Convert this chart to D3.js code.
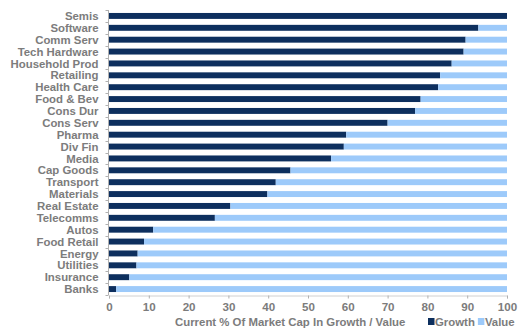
<!DOCTYPE html>
<html>
<head>
<meta charset="utf-8">
<script src="https://cdn.jsdelivr.net/npm/d3@7"></script>
<style>
  html, body { margin: 0; padding: 0; background: #fff; }
  svg { display: block; font-family: "Liberation Sans", Arial, sans-serif; }
</style>
</head>
<body>
<svg id="chart" width="520" height="336"></svg>
<script>
// Sectors, top to bottom
const sectors = ["Semis", "Software", "Comm Serv", "Tech Hardware", "Household Prod",
  "Retailing", "Health Care", "Food & Bev", "Cons Dur", "Cons Serv", "Pharma",
  "Div Fin", "Media", "Cap Goods", "Transport", "Materials", "Real Estate",
  "Telecomms", "Autos", "Food Retail", "Energy", "Utilities", "Insurance", "Banks"];

// Share of market cap classed as growth (%); value is the remainder
const growthPct = [100, 92.8, 89.6, 89.1, 86.1, 83.2, 82.7, 78.3, 76.9, 70.0, 59.6,
  59.0, 55.8, 45.6, 41.9, 39.8, 30.5, 26.6, 11.1, 8.8, 7.2, 6.9, 5.1, 1.8];
const valuePct = growthPct.map(g => 100 - g);

const xTicks = [0, 10, 20, 30, 40, 50, 60, 70, 80, 90, 100];
const seriesNames = ["Growth", "Value"];
const colors = { Growth: "#0d2f5e", Value: "#9dcafa" };
const textColor = "#7c7c7c";
const axisTitle = "Current % Of Market Cap In Growth / Value";

const svg = d3.select("#chart");
const margin = { left: 109, right: 13, top: 10, bottom: 41 };
const W = 520, H = 336;

const x = d3.scaleLinear().domain([0, 100]).range([margin.left, W - margin.right]);
const y = d3.scaleBand().domain(sectors).range([margin.top, H - margin.bottom]).paddingInner(0.5).paddingOuter(0.25);

const rows = sectors.map((s, i) => ({ sector: s, Growth: growthPct[i], Value: valuePct[i] }));
const stacked = d3.stack().keys(seriesNames)(rows);

svg.append("g")
  .selectAll("g")
  .data(stacked)
  .join("g")
  .attr("fill", d => colors[d.key])
  .selectAll("rect")
  .data(d => d)
  .join("rect")
  .attr("x", d => x(d[0]))
  .attr("width", d => x(d[1]) - x(d[0]))
  .attr("y", d => y(d.data.sector))
  .attr("height", y.bandwidth());

// Category axis with ticks between bands
const yAxisG = svg.append("g").attr("transform", `translate(${margin.left - 0.5},0)`);
yAxisG.append("line")
  .attr("x1", 0).attr("x2", 0)
  .attr("y1", margin.top).attr("y2", H - margin.bottom)
  .attr("stroke", "#b0b0b0");
const step = y.step();
const bandTop = y.range()[0];
yAxisG.selectAll("line.tick")
  .data(d3.range(sectors.length + 1))
  .join("line")
  .attr("class", "tick")
  .attr("x1", -3).attr("x2", 0)
  .attr("y1", i => Math.round(bandTop + i * step) + 0.5)
  .attr("y2", i => Math.round(bandTop + i * step) + 0.5)
  .attr("stroke", "#b0b0b0");
yAxisG.selectAll("text")
  .data(sectors)
  .join("text")
  .attr("x", -10)
  .attr("y", d => y(d) + y.bandwidth() / 2)
  .attr("dy", "0.36em")
  .attr("text-anchor", "end")
  .attr("fill", textColor)
  .attr("font-size", "11.4px")
  .attr("font-weight", "bold")
  .text(d => d);

// Value axis
const xAxis = d3.axisBottom(x).tickValues(xTicks).tickSize(3).tickPadding(4);
const xAxisG = svg.append("g")
  .attr("transform", `translate(0,${H - margin.bottom + 0.5})`)
  .call(xAxis);
xAxisG.select(".domain").attr("stroke", "#d0d0d0");
xAxisG.selectAll(".tick line").attr("stroke", "#b0b0b0");
xAxisG.selectAll(".tick text")
  .attr("fill", textColor)
  .attr("font-size", "11.6px")
  .attr("font-weight", "bold")
  .attr("font-family", "Liberation Sans, Arial, sans-serif");

// Axis title and legend
svg.append("text")
  .attr("x", 175).attr("y", 326)
  .attr("fill", textColor)
  .attr("font-size", "11.4px")
  .attr("font-weight", "bold")
  .text(axisTitle);

const legend = svg.append("g").attr("transform", "translate(428,326)");
let lx = 0;
seriesNames.forEach(name => {
  legend.append("rect")
    .attr("x", lx).attr("y", -8)
    .attr("width", 6.5).attr("height", 7)
    .attr("fill", colors[name]);
  const t = legend.append("text")
    .attr("x", lx + 7).attr("y", 0)
    .attr("fill", textColor)
    .attr("font-size", "11.4px")
    .attr("font-weight", "bold")
    .text(name);
  lx += 7 + t.node().getComputedTextLength() + 3;
});
</script>
</body>
</html>
